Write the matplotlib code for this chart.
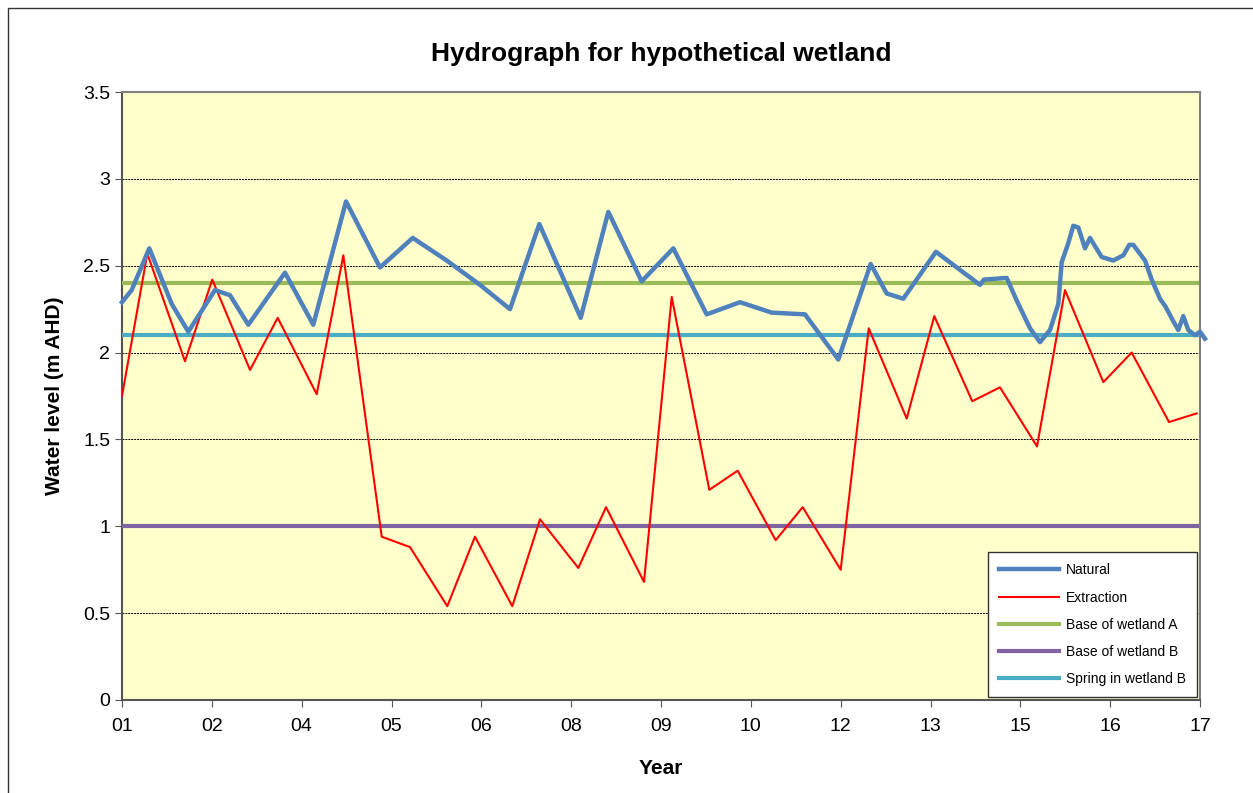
import numpy as np
import matplotlib.pyplot as plt
from matplotlib.patches import Rectangle

plt.rcParams['font.family'] = ['Liberation Sans', 'DejaVu Sans']

# decimal years
nat_x = [2001.0, 2001.144, 2001.405, 2001.738, 2001.984, 2002.380, 2002.603, 2002.875,
         2003.419, 2003.839, 2004.325, 2004.829, 2005.315, 2005.819, 2006.313, 2006.759,
         2007.194, 2007.808, 2008.218, 2008.713, 2009.183, 2009.678, 2010.173, 2010.643,
         2011.137, 2011.632, 2012.112, 2012.350, 2012.596, 2013.081, 2013.734, 2013.794,
         2014.131, 2014.279, 2014.477, 2014.625, 2014.774, 2014.897, 2014.947, 2015.045,
         2015.120, 2015.194, 2015.293, 2015.367, 2015.541, 2015.713, 2015.862, 2015.951,
         2016.010, 2016.184, 2016.283, 2016.406, 2016.480, 2016.604, 2016.678, 2016.752,
         2016.826, 2016.926, 2017.0, 2017.074]
nat_y = [2.29, 2.36, 2.60, 2.28, 2.12, 2.36, 2.33, 2.16,
         2.46, 2.16, 2.87, 2.49, 2.66, 2.53, 2.39, 2.25,
         2.74, 2.20, 2.81, 2.41, 2.60, 2.22, 2.29, 2.23,
         2.22, 1.96, 2.51, 2.34, 2.31, 2.58, 2.39, 2.42,
         2.43, 2.30, 2.14, 2.06, 2.13, 2.28, 2.52, 2.63,
         2.73, 2.72, 2.60, 2.66, 2.55, 2.53, 2.56, 2.62,
         2.62, 2.53, 2.42, 2.31, 2.27, 2.18, 2.13, 2.21,
         2.13, 2.10, 2.12, 2.08]

ext_x = [2001.0, 2001.376, 2001.935, 2002.340, 2002.900, 2003.311, 2003.890, 2004.285,
         2004.855, 2005.275, 2005.828, 2006.239, 2006.793, 2007.204, 2007.773, 2008.184,
         2008.748, 2009.159, 2009.717, 2010.138, 2010.702, 2011.103, 2011.667, 2012.083,
         2012.647, 2013.056, 2013.620, 2014.031, 2014.581, 2014.996, 2015.565, 2015.986,
         2016.540, 2016.951]
ext_y = [1.75, 2.57, 1.95, 2.42, 1.90, 2.20, 1.76, 2.56,
         0.94, 0.88, 0.54, 0.94, 0.54, 1.04, 0.76, 1.11,
         0.68, 2.32, 1.21, 1.32, 0.92, 1.11, 0.75, 2.14,
         1.62, 2.21, 1.72, 1.80, 1.46, 2.36, 1.83, 2.00,
         1.60, 1.65]

base_a = 2.4
base_b = 1.0
spring_b = 2.1

tick_labels = ['01', '02', '04', '05', '06', '08', '09', '10', '12', '13', '15', '16', '17']

fig = plt.figure(figsize=(12.53, 7.93), dpi=100)
fig.patches.append(Rectangle((8 / 1253, -0.1), 1.1, (793 - 8) / 793 + 0.1,
                             transform=fig.transFigure, fill=False,
                             edgecolor='#333333', linewidth=1))
ax = fig.add_axes([122 / 1253, 93 / 793, 1078 / 1253, 608 / 793])
ax.set_facecolor('#FFFFCC')

xs = [ext_x[0], ext_x[-1]]
ax.plot(nat_x, nat_y, color='#4F81BD', lw=3.2, label='Natural', clip_on=False,
        solid_joinstyle='round', zorder=5)
ax.plot(ext_x, ext_y, color='#FF0000', lw=1.5, label='Extraction', zorder=4)
ax.plot(xs, [base_a, base_a], color='#9BBB59', lw=3, label='Base of wetland A', zorder=3)
ax.plot(xs, [base_b, base_b], color='#8064A2', lw=3, label='Base of wetland B', zorder=3)
ax.plot(xs, [spring_b, spring_b], color='#4BACC6', lw=3, label='Spring in wetland B', zorder=3)

ax.set_xlim(2001, 2017)
ax.set_ylim(0, 3.5)
ax.set_xticks(np.linspace(2001, 2017, len(tick_labels)))
ax.set_xticklabels(tick_labels)
ax.set_yticks(np.arange(0, 3.51, 0.5))
ax.set_yticklabels(['0', '0.5', '1', '1.5', '2', '2.5', '3', '3.5'])
ax.yaxis.grid(True, color='black', linestyle=(0, (2, 1)), linewidth=0.7)
ax.set_axisbelow(True)
ax.tick_params(axis='both', labelsize=14, length=5, color='#555555')
ax.tick_params(axis='x', pad=8)
for side in ['top', 'right']:
    ax.spines[side].set_color('#808080')
    ax.spines[side].set_linewidth(1.5)
for side in ['left', 'bottom']:
    ax.spines[side].set_color('#555555')
    ax.spines[side].set_linewidth(1.5)

ax.set_title('Hydrograph for hypothetical wetland', fontsize=19, fontweight='bold', pad=22)
ax.set_ylabel('Water level (m AHD)', fontsize=15, fontweight='bold', labelpad=14)
ax.set_xlabel('Year', fontsize=15, fontweight='bold', labelpad=17)

leg = ax.legend(loc='lower right', fontsize=10, frameon=True, fancybox=False,
                edgecolor='#333333', framealpha=1, handlelength=4.3, labelspacing=0.95,
                borderaxespad=0.2, borderpad=0.8, handletextpad=0.5)
leg.get_frame().set_linewidth(1)

fig.savefig('out.png', dpi=100)
